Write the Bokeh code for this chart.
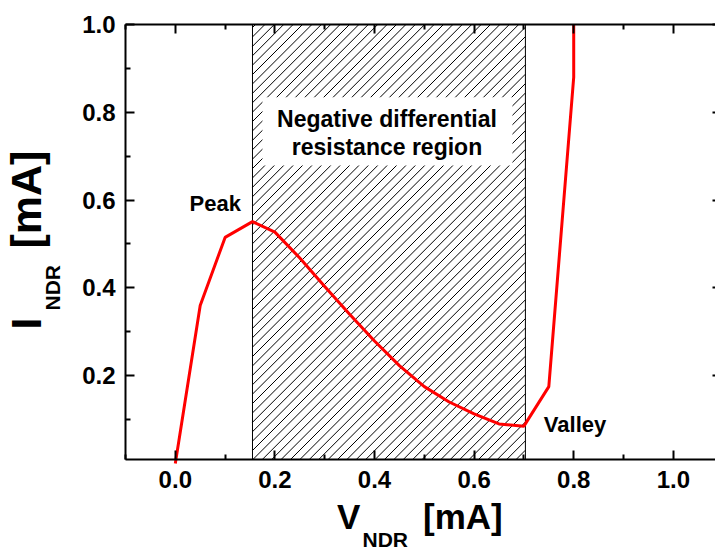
import math
from bokeh.plotting import figure
from bokeh.models import Range1d, LinearAxis, FixedTicker, Label, PrintfTickFormatter
from bokeh.embed import file_html
from bokeh.resources import INLINE

# ---- data ----
v_ndr = [0.0, 0.05, 0.10, 0.155, 0.20, 0.25, 0.30, 0.35, 0.40, 0.45, 0.50,
         0.55, 0.60, 0.65, 0.70, 0.75, 0.80, 0.80]
i_ndr = [0.0, 0.36, 0.515, 0.551, 0.527, 0.468, 0.403, 0.340, 0.279, 0.223,
         0.175, 0.140, 0.113, 0.090, 0.085, 0.175, 0.88, 1.0]

ndr_region = [0.155, 0.703]          # V range of negative differential resistance
x_ticks = [0.0, 0.2, 0.4, 0.6, 0.8, 1.0]
x_minor = [-0.1, 0.1, 0.3, 0.5, 0.7, 0.9]
y_ticks = [0.2, 0.4, 0.6, 0.8, 1.0]
y_minor = [0.1, 0.3, 0.5, 0.7, 0.9]

# plot-area limits (axes box)
X_LO, X_HI = -0.1, 1.0847
Y_LO, Y_HI = 0.009, 1.0

W, H = 715, 547
ML, MT = 125, 24                     # margins left / top in px
SX = (W - ML) / (X_HI - X_LO)        # px per data unit
SY = 435 / (Y_HI - Y_LO)

FONT = "Liberation Sans"

p = figure(width=W, height=H,
           x_range=Range1d(X_LO - ML / SX, X_HI),
           y_range=Range1d(Y_HI - (H - MT) / SY, Y_HI + MT / SY),
           output_backend="svg", toolbar_location=None, min_border=0)
p.min_border_left = p.min_border_right = p.min_border_top = p.min_border_bottom = 0
p.outline_line_color = None
p.xgrid.visible = False
p.ygrid.visible = False
p.background_fill_color = "white"
p.border_fill_color = "white"


def style_axis(ax, ticks, minor, loc, bounds, labels=True):
    ax.fixed_location = loc
    ax.bounds = bounds
    ax.ticker = FixedTicker(ticks=ticks, minor_ticks=minor)
    ax.formatter = PrintfTickFormatter(format="%.1f")
    ax.axis_line_color = "black"
    ax.axis_line_width = 2
    ax.major_tick_line_color = "black"
    ax.major_tick_line_width = 2
    ax.minor_tick_line_color = "black"
    ax.minor_tick_line_width = 2
    ax.major_tick_in = 9
    ax.major_tick_out = 0
    ax.minor_tick_in = 5
    ax.minor_tick_out = 0
    ax.axis_label = None
    ax.major_label_text_font = FONT
    ax.major_label_text_font_style = "bold"
    ax.major_label_text_font_size = "24px"
    ax.major_label_text_color = "black"
    if not labels:
        ax.major_label_overrides = {t: "" for t in ticks}


style_axis(p.xaxis[0], x_ticks, x_minor, Y_LO, (X_LO, X_HI))
p.xaxis[0].major_label_standoff = 11
style_axis(p.yaxis[0], y_ticks, y_minor, X_LO, (Y_LO, Y_HI))
p.yaxis[0].major_label_standoff = 10

top = LinearAxis()
style_axis(top, x_ticks, x_minor, Y_HI, (X_LO, X_HI), labels=False)
p.add_layout(top, "above")

right = LinearAxis()
style_axis(right, y_ticks, [], X_HI, (Y_LO, Y_HI), labels=False)
right.axis_line_color = None
right.major_tick_in = 3
right.minor_tick_line_color = None
p.add_layout(right, "right")

# hatched NDR region: white fill, outline, 45-degree hatch lines
x0, x1 = ndr_region
p.quad(left=[x0], right=[x1], bottom=[Y_LO], top=[Y_HI],
       fill_color="white", line_color="black", line_width=1)

w_px = (x1 - x0) * SX
h_px = (Y_HI - Y_LO) * SY
step = 9.4
hx0, hy0, hx1, hy1 = [], [], [], []
c = -h_px + 3.0
while c < w_px:
    u0 = max(0.0, c)
    u1 = min(w_px, h_px + c)
    if u1 > u0:
        hx0.append(x0 + u0 / SX)
        hy0.append(Y_LO + (u0 - c) / SY)
        hx1.append(x0 + u1 / SX)
        hy1.append(Y_LO + (u1 - c) / SY)
    c += step
p.segment(x0=hx0, y0=hy0, x1=hx1, y1=hy1, line_color="black", line_width=1)

# white box for region text
p.quad(left=[0.175], right=[0.677], bottom=[0.679], top=[0.834],
       fill_color="white", line_color=None)

for txt, yy in (("Negative differential", 0.784), ("resistance region", 0.721)):
    p.add_layout(Label(x=0.425, y=yy, text=txt, text_align="center",
                       text_baseline="alphabetic", text_font=FONT,
                       text_font_style="bold", text_font_size="23px",
                       text_color="black"))

p.line(v_ndr, i_ndr, line_color="#ff0000", line_width=3)

p.add_layout(Label(x=0.0285, y=0.593, text="Peak", text_align="left",
                   text_baseline="alphabetic", text_font=FONT,
                   text_font_style="bold", text_font_size="22px",
                   text_color="black"))
p.add_layout(Label(x=0.740, y=0.088, text="Valley", text_align="left",
                   text_baseline="alphabetic", text_font=FONT,
                   text_font_style="bold", text_font_size="22px",
                   text_color="black"))


# axis titles (with subscripts), screen units from canvas bottom-left
def slabel(x, y, text, size, angle=0.0):
    p.add_layout(Label(x=x, y=y, x_units="screen", y_units="screen", text=text,
                       text_align="left", text_baseline="alphabetic",
                       text_font=FONT, text_font_style="bold",
                       text_font_size=size, angle=angle, text_color="black"))


slabel(336.5, 30.6, "V", "35px")
slabel(362.0, 7.7, "NDR", "21px")
slabel(422.5, 30.6, "[mA]", "35px")

slabel(25.0, 218.0, "I", "43px", math.pi / 2)
slabel(51.5, 237.0, "NDR", "21px", math.pi / 2)
slabel(25.0, 299.0, "[mA]", "43px", math.pi / 2)

open("out.html", "w").write(file_html(p, INLINE))
